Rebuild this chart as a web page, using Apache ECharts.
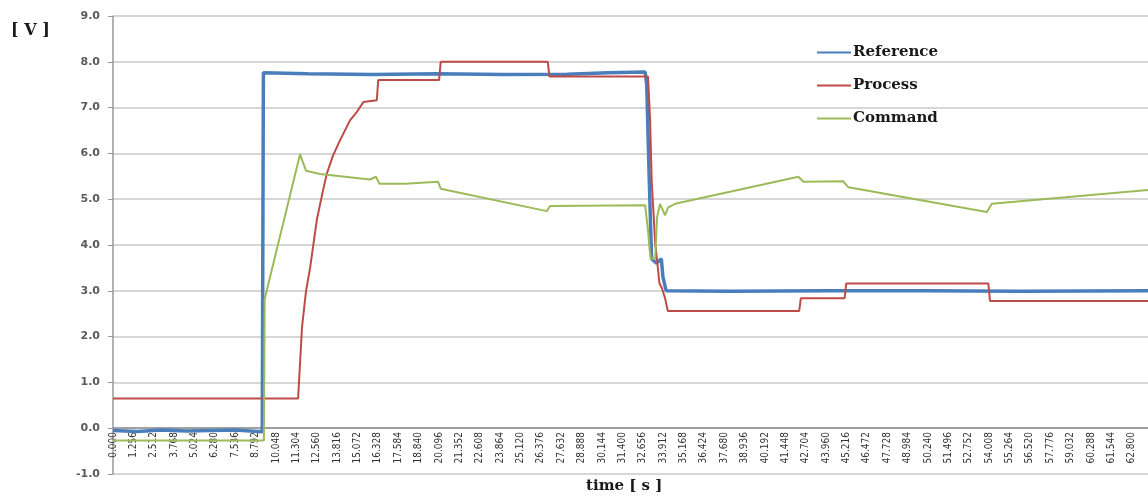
<!DOCTYPE html>
<html>
<head>
    <meta charset="utf-8">
    <script src="https://cdn.jsdelivr.net/npm/echarts@6/dist/echarts.min.js"></script>
    <style>
        html, body { margin: 0; padding: 0; background: #fff; }
        #main { width: 1148px; height: 497px; }
    </style>
</head>

<body>
    <div id="main"></div>

    <script type="text/javascript">
        // time [s], volts
        var reference = [
            [0, -0.05], [1.5, -0.07], [3, -0.04], [4.5, -0.06], [6, -0.05], [7.5, -0.04], [9.2, -0.08],
            [9.27, 7.76], [12, 7.74], [16, 7.72], [20, 7.74], [24, 7.72], [28, 7.73], [30.5, 7.76],
            [32.8, 7.78], [32.9, 7.5], [33.05, 5.5], [33.2, 3.7], [33.5, 3.6], [33.8, 3.7],
            [33.9, 3.3], [34.1, 3.0], [38, 2.99], [44, 3.0], [50, 3.0], [56, 2.99], [63.8, 3.0]
        ];
        var process = [
            [0, 0.65], [11.41, 0.65], [11.65, 2.2], [11.9, 3.0], [12.15, 3.5], [12.56, 4.54],
            [12.89, 5.1], [13.18, 5.56], [13.56, 5.95], [14.0, 6.29], [14.61, 6.72], [15.02, 6.9],
            [15.43, 7.12], [16.26, 7.16], [16.35, 7.6], [20.1, 7.6], [20.2, 8.0], [26.8, 8.0],
            [26.9, 7.68], [32.98, 7.68], [33.11, 6.72], [33.21, 5.35], [33.31, 4.76], [33.42, 4.04],
            [33.56, 3.6], [33.68, 3.17], [33.83, 3.06], [34.03, 2.84], [34.2, 2.56], [42.3, 2.56],
            [42.4, 2.84], [45.1, 2.84], [45.2, 3.16], [53.96, 3.16], [54.06, 2.78], [63.8, 2.78]
        ];
        var command = [
            [0, -0.27], [9.3, -0.27], [9.35, 2.82], [11.53, 5.98], [11.9, 5.62], [12.76, 5.55],
            [15.84, 5.43], [16.21, 5.49], [16.42, 5.34], [18.0, 5.34], [20.04, 5.38], [20.2, 5.23],
            [26.74, 4.74], [26.94, 4.85], [32.8, 4.87], [32.98, 4.32], [33.08, 3.89], [33.15, 3.7],
            [33.42, 3.7], [33.54, 4.61], [33.72, 4.9], [34.03, 4.65], [34.22, 4.82], [34.65, 4.9],
            [42.25, 5.49], [42.56, 5.38], [45.02, 5.39], [45.33, 5.26], [53.87, 4.72], [54.17, 4.9],
            [63.8, 5.2]
        ];
        var seriesNames = ['Reference', 'Process', 'Command'];
        var colors = ['#4a7ebb', '#be4b48', '#9bbb59'];
        var timeStep = 1.256;
        var timeMax = 63.8;

        var myChart = echarts.init(document.getElementById('main'));

        myChart.setOption({
            animation: false,
            color: colors,
            grid: {
                left: 113,
                right: 0,
                top: 16,
                bottom: 23,
                containLabel: false,
                outerBoundsMode: 'none'
            },
            legend: {
                data: seriesNames,
                orient: 'vertical',
                left: 812,
                top: 39,
                icon: 'rect',
                itemWidth: 34,
                itemHeight: 2,
                itemGap: 16,
                textStyle: {
                    fontFamily: 'DejaVu Serif',
                    fontWeight: 'bold',
                    fontSize: 15,
                    lineHeight: 17,
                    color: '#1a1a1a',
                    padding: [0, 0, 0, -3]
                }
            },
            graphic: [
                {
                    type: 'text', left: 11, top: 23,
                    style: { text: '[ V ]', font: 'bold 16px "DejaVu Serif"', fill: '#1a1a1a' }
                },
                {
                    type: 'text', left: 586, top: 479,
                    style: { text: 'time [ s ]', font: 'bold 15px "DejaVu Serif"', fill: '#1a1a1a' }
                }
            ],
            xAxis: {
                type: 'value',
                min: 0,
                max: timeMax,
                interval: timeStep,
                position: 'bottom',
                offset: -46,
                axisLine: { onZero: false, lineStyle: { color: '#a0a0a0', width: 2 } },
                axisTick: { show: false },
                splitLine: { show: false },
                axisLabel: {
                    rotate: 90,
                    margin: 4,
                    showMaxLabel: false,
                    fontFamily: 'DejaVu Sans Condensed',
                    fontSize: 10,
                    color: '#333',
                    formatter: function (v) { return v.toFixed(3); }
                }
            },
            yAxis: {
                type: 'value',
                min: -1,
                max: 9,
                interval: 1,
                axisLine: { show: true, lineStyle: { color: '#999', width: 1.5 } },
                axisTick: { show: true, length: 5, lineStyle: { color: '#999' } },
                splitLine: { lineStyle: { color: '#c8c8c8', width: 1.5 } },
                axisLabel: {
                    margin: 13,
                    fontFamily: 'DejaVu Sans',
                    fontWeight: 'bold',
                    fontSize: 11,
                    color: '#5a5a5a',
                    formatter: function (v) { return v.toFixed(1); }
                }
            },
            series: [
                {
                    name: seriesNames[0], type: 'line', data: reference,
                    showSymbol: false, lineStyle: { width: 3.5 }
                },
                {
                    name: seriesNames[1], type: 'line', data: process,
                    showSymbol: false, lineStyle: { width: 2 }
                },
                {
                    name: seriesNames[2], type: 'line', data: command,
                    showSymbol: false, lineStyle: { width: 2 }
                }
            ]
        });
    </script>
</body>

</html>
